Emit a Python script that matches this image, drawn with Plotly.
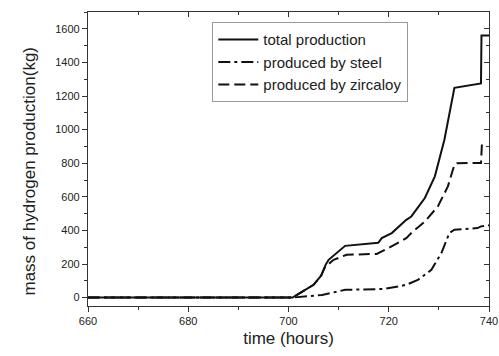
import plotly.graph_objects as go

# total production
t_total = [660, 700.8, 703.0, 705.0, 706.5, 707.4, 708.0, 711.3, 717.9, 718.6, 720.6,
           723.5, 724.5, 727.2, 729.2, 731.1, 733.1, 738.4, 738.5, 740]
v_total = [0, 0, 40, 76, 130, 195, 225, 308, 326, 354, 384,
           463, 483, 593, 722, 940, 1249, 1275, 1560, 1560]

# produced by steel
t_steel = [660, 700.8, 706.7, 711.3, 717.3, 719.0, 721.9, 723.5, 725.8, 728.5,
           730.5, 732.1, 733.1, 737.7, 738.4, 740]
v_steel = [0, 0, 16, 46, 50, 52, 66, 76, 105, 165,
           265, 384, 404, 414, 424, 430]

# produced by zircaloy
t_zirc = [660, 700.8, 703.0, 705.0, 706.5, 707.4, 708.0, 709.0, 711.6, 717.6, 719.9,
          723.5, 724.5, 727.2, 729.8, 731.8, 733.1, 733.6, 738.4, 738.6]
v_zirc = [0, 0, 40, 76, 130, 190, 200, 225, 255, 260, 294,
          354, 384, 453, 543, 662, 791, 800, 801, 921]

x_range = [660, 740]
y_range = [-50, 1700]
x_ticks = [660, 680, 700, 720, 740]
y_ticks = [0, 200, 400, 600, 800, 1000, 1200, 1400, 1600]

col = "#111111"
fig = go.Figure()
fig.add_trace(go.Scatter(x=t_total, y=v_total, mode="lines", name="total production",
                         line=dict(color=col, width=2)))
fig.add_trace(go.Scatter(x=t_steel, y=v_steel, mode="lines", name="produced by steel",
                         line=dict(color=col, width=2, dash="12px,4px,3px,4px")))
fig.add_trace(go.Scatter(x=t_zirc, y=v_zirc, mode="lines", name="produced by zircaloy",
                         line=dict(color=col, width=2, dash="11px,5px")))
# invisible trace to register the mirror axes (top / right, ticks inside)
fig.add_trace(go.Scatter(x=x_range, y=y_range, xaxis="x2", yaxis="y2", mode="lines",
                         line=dict(width=0), opacity=0, showlegend=False, hoverinfo="skip"))

font = "Liberation Sans, Arial, sans-serif"
fig.update_layout(
    width=499, height=356,
    margin=dict(l=88, r=10, t=12, b=50, autoexpand=False),
    paper_bgcolor="white", plot_bgcolor="white",
    font=dict(family=font, color="#222222"),
    showlegend=True,
    legend=dict(x=0.31, y=0.965, xanchor="left", yanchor="top",
                bgcolor="white", bordercolor="#999999", borderwidth=1,
                font=dict(size=15, family=font, color="#222222"),
                tracegroupgap=0, itemwidth=40),
    xaxis=dict(range=x_range, tickvals=x_ticks, showgrid=False, zeroline=False,
               showline=True, linecolor="#333333", linewidth=1.2, automargin=False,
               ticks="outside", ticklen=5, tickcolor="#333333",
               minor=dict(dtick=10, ticks="outside", ticklen=3, tickcolor="#333333"),
               tickfont=dict(size=11),
               title=dict(text="time (hours)", font=dict(size=17), standoff=5)),
    yaxis=dict(range=y_range, tickvals=y_ticks, showgrid=False, zeroline=False,
               showline=True, linecolor="#333333", linewidth=1.2, automargin=False,
               ticks="outside", ticklen=5, tickcolor="#333333",
               minor=dict(dtick=100, ticks="outside", ticklen=3, tickcolor="#333333"),
               tickfont=dict(size=11)),
    xaxis2=dict(range=x_range, overlaying="x", side="top", anchor="y2", automargin=False,
                tickvals=x_ticks, showticklabels=False, showgrid=False, zeroline=False,
                showline=True, linecolor="#333333", linewidth=1.2,
                ticks="inside", ticklen=5, tickcolor="#333333",
                minor=dict(dtick=10, ticks="inside", ticklen=3, tickcolor="#333333")),
    yaxis2=dict(range=y_range, overlaying="y", side="right", anchor="x2", automargin=False,
                tickvals=y_ticks, showticklabels=False, showgrid=False, zeroline=False,
                showline=True, linecolor="#333333", linewidth=1.2,
                ticks="inside", ticklen=5, tickcolor="#333333",
                minor=dict(dtick=100, ticks="inside", ticklen=3, tickcolor="#333333")),
    annotations=[dict(text="mass of hydrogen production(kg)", textangle=-90,
                      xref="paper", yref="paper", x=-0.146, y=0.459,
                      xanchor="center", yanchor="middle", showarrow=False,
                      font=dict(size=17, family=font, color="#222222"))],
)

fig.write_html("out.html")
